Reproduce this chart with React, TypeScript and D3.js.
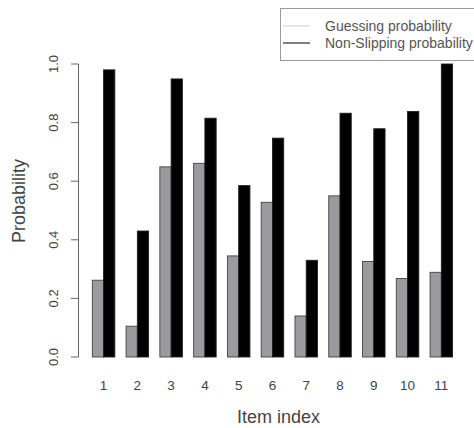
import React from "react";
import * as d3 from "d3";

const items = ["1", "2", "3", "4", "5", "6", "7", "8", "9", "10", "11"];
const guessing = [0.262, 0.105, 0.649, 0.661, 0.345, 0.528, 0.14, 0.55, 0.326, 0.268, 0.289];
const nonSlipping = [0.98, 0.43, 0.949, 0.815, 0.585, 0.747, 0.33, 0.832, 0.779, 0.838, 1.0];
const yTicks = [0, 0.2, 0.4, 0.6, 0.8, 1.0];
const legendLabels = ["Guessing probability", "Non-Slipping probability"];

const W = 474;
const H = 428;
const FONT = "'Liberation Sans', Arial, Helvetica, sans-serif";

export default function App() {
  const x = d3.scaleLinear().domain([-0.28, 34.28]).range([77.9, 467]);
  const y = d3.scaleLinear().domain([0, 1]).range([357, 64]);
  const fmt = d3.format(".1f");
  const axisX = 78.5;

  return (
    <svg
      width={W}
      height={H}
      style={{ position: "absolute", left: 0, top: 0, background: "#fff" }}
      fontFamily={FONT}
    >
      {/* bars */}
      {items.map((it, i) => {
        const g0 = 3 * i + 1;
        return (
          <g key={it}>
            <rect
              x={x(g0)}
              y={y(guessing[i])}
              width={x(g0 + 1) - x(g0)}
              height={y(0) - y(guessing[i])}
              fill="#9b9b9f"
              stroke="#444"
              strokeWidth={0.9}
            />
            <rect
              x={x(g0 + 1)}
              y={y(nonSlipping[i])}
              width={x(g0 + 2) - x(g0 + 1)}
              height={y(0) - y(nonSlipping[i])}
              fill="#000"
              stroke="#222"
              strokeWidth={0.9}
            />
            <text
              x={x(g0 + 1)}
              y={390}
              textAnchor="middle"
              fontSize={13.5}
              fill="#444"
            >
              {it}
            </text>
          </g>
        );
      })}

      {/* y axis */}
      <line x1={axisX} x2={axisX} y1={y(0)} y2={y(1)} stroke="#666" strokeWidth={1} />
      {yTicks.map((t) => (
        <g key={t}>
          <line x1={axisX - 7.5} x2={axisX} y1={y(t)} y2={y(t)} stroke="#666" strokeWidth={1} />
          <text
            transform={`translate(58,${y(t)}) rotate(-90)`}
            textAnchor="middle"
            fontSize={13}
            fill="#444"
          >
            {fmt(t)}
          </text>
        </g>
      ))}

      {/* axis titles */}
      <text
        transform={`translate(25,201) rotate(-90)`}
        textAnchor="middle"
        fontSize={18}
        fill="#444"
      >
        Probability
      </text>
      <text x={278.5} y={423} textAnchor="middle" fontSize={18} fill="#444">
        Item index
      </text>

      {/* legend */}
      <rect x={280.5} y={8.5} width={210} height={52} fill="#fff" stroke="#999" strokeWidth={1} />
      <line x1={283} x2={310} y1={26} y2={26} stroke="#ccc" strokeWidth={1} />
      <line x1={283} x2={310} y1={43} y2={43} stroke="#000" strokeWidth={1} />
      <text x={325} y={31} fontSize={14} fill="#555">
        {legendLabels[0]}
      </text>
      <text x={325} y={48} fontSize={14} fill="#555">
        {legendLabels[1]}
      </text>
    </svg>
  );
}
